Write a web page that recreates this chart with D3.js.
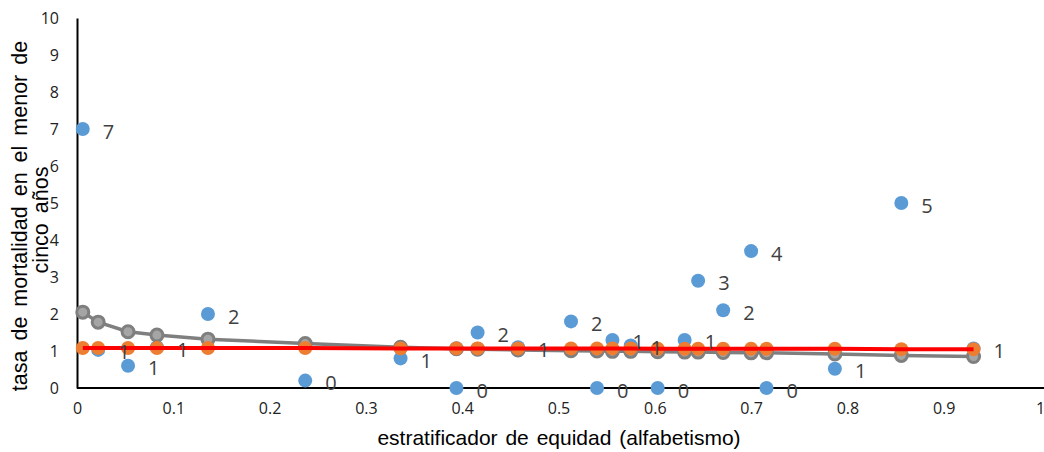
<!DOCTYPE html>
<html>
<head>
<meta charset="utf-8">
<script src="https://cdn.jsdelivr.net/npm/d3@7"></script>
<style>
  html, body { margin: 0; padding: 0; background: #fff; }
  svg { display: block; }
</style>
</head>
<body>
<svg id="chart" width="1044" height="452"></svg>
<script>
// Equity stratifier (literacy) per unit
const stratifier = [0.006, 0.022, 0.053, 0.083, 0.136, 0.237, 0.336, 0.394, 0.416, 0.458,
                    0.513, 0.540, 0.556, 0.575, 0.603, 0.631, 0.645, 0.671, 0.700, 0.716,
                    0.787, 0.856, 0.931];
// Observed under-five mortality rate
const observed = [7.0, 1.03, 0.6, 1.1, 2.0, 0.2, 0.8, 0.0, 1.5, 1.1,
                  1.8, 0.0, 1.3, 1.15, 0.0, 1.3, 2.9, 2.1, 3.7, 0.0,
                  0.52, 5.0, 1.07];
// Linear fit (flat)
const linearFit = [1.08, 1.08, 1.08, 1.08, 1.08, 1.08, 1.07, 1.07, 1.07, 1.07,
                   1.07, 1.07, 1.07, 1.07, 1.06, 1.06, 1.06, 1.06, 1.06, 1.06,
                   1.06, 1.05, 1.05];
// Curved fit (decreasing)
const curveFit = [2.05, 1.78, 1.52, 1.43, 1.32, 1.2, 1.1, 1.06, 1.05, 1.03,
                  1.01, 1.0, 0.99, 0.99, 0.98, 0.97, 0.97, 0.96, 0.95, 0.95,
                  0.92, 0.88, 0.85];
const xTicks = [0, 0.1, 0.2, 0.3, 0.4, 0.5, 0.6, 0.7, 0.8, 0.9, 1];
const yTicks = [0, 1, 2, 3, 4, 5, 6, 7, 8, 9, 10];

const svg = d3.select("#chart");
const x = d3.scaleLinear().domain([0, 1]).range([77, 1040]);
const y = d3.scaleLinear().domain([0, 10]).range([388, 18]);

const rows = stratifier.map((s, i) => ({
  s, obs: observed[i], lin: linearFit[i], cur: curveFit[i]
}));

// Axes
const xAxis = svg.append("g").attr("transform", `translate(0,${y(0)})`)
  .call(d3.axisBottom(x).tickValues(xTicks).tickSize(0).tickPadding(15)
    .tickFormat(d => d === 0 || d === 1 ? String(d) : d3.format(".1f")(d)));
xAxis.select(".domain").attr("d", `M${x(0)},0H1044`).attr("stroke", "#000").attr("stroke-width", 2);
xAxis.selectAll("text").attr("font-family", "'Open Sans', sans-serif")
  .attr("font-size", 16).attr("fill", "#222");

const yAxis = svg.append("g").attr("transform", `translate(${x(0)},0)`)
  .call(d3.axisLeft(y).tickValues(yTicks).tickSize(0).tickPadding(18).tickFormat(d3.format("d")));
yAxis.select(".domain").attr("stroke", "#000").attr("stroke-width", 2);
yAxis.selectAll("text").attr("font-family", "'Open Sans', sans-serif")
  .attr("font-size", 16).attr("fill", "#222");

// Observed points
svg.append("g").selectAll("circle").data(rows).join("circle")
  .attr("cx", d => x(d.s)).attr("cy", d => y(d.obs)).attr("r", 7)
  .attr("fill", "#5B9BD5");

// Curved fit: line and markers
svg.append("path").datum(rows)
  .attr("d", d3.line().x(d => x(d.s)).y(d => y(d.cur)))
  .attr("fill", "none").attr("stroke", "#7F7F7F").attr("stroke-width", 3.5);
svg.append("g").selectAll("circle").data(rows).join("circle")
  .attr("cx", d => x(d.s)).attr("cy", d => y(d.cur)).attr("r", 6)
  .attr("fill", "#A5A5A5").attr("stroke", "#7F7F7F").attr("stroke-width", 3);

// Linear fit markers and line
svg.append("g").selectAll("circle").data(rows).join("circle")
  .attr("cx", d => x(d.s)).attr("cy", d => y(d.lin)).attr("r", 7)
  .attr("fill", "#ED7D31");
svg.append("path").datum(rows)
  .attr("d", d3.line().x(d => x(d.s)).y(d => y(d.lin)))
  .attr("fill", "none").attr("stroke", "#FF0000").attr("stroke-width", 4);

// Value labels on observed points
svg.append("g").selectAll("text").data(rows).join("text")
  .attr("x", d => x(d.s) + 20).attr("y", d => y(d.obs) + 2)
  .attr("dominant-baseline", "central")
  .attr("font-family", "'Open Sans', sans-serif").attr("font-size", 20)
  .attr("fill", "#404040")
  .text(d => Math.round(d.obs));

// Axis titles
svg.append("text")
  .attr("x", 559).attr("y", 445).attr("text-anchor", "middle")
  .attr("font-family", "'Liberation Sans', Arial, sans-serif").attr("font-size", 21)
  .attr("word-spacing", 2)
  .attr("fill", "#000")
  .text("estratificador de equidad (alfabetismo)");

const yTitle = svg.append("text")
  .attr("transform", `translate(27,216) rotate(-90)`)
  .attr("text-anchor", "middle")
  .attr("font-family", "'Liberation Sans', Arial, sans-serif").attr("font-size", 21.5)
  .attr("word-spacing", 4)
  .attr("fill", "#000");
yTitle.append("tspan").attr("x", 0).attr("y", 0).text("tasa de mortalidad en el menor de");
yTitle.append("tspan").attr("x", -4).attr("y", 21).text("cinco años");
</script>
</body>
</html>
